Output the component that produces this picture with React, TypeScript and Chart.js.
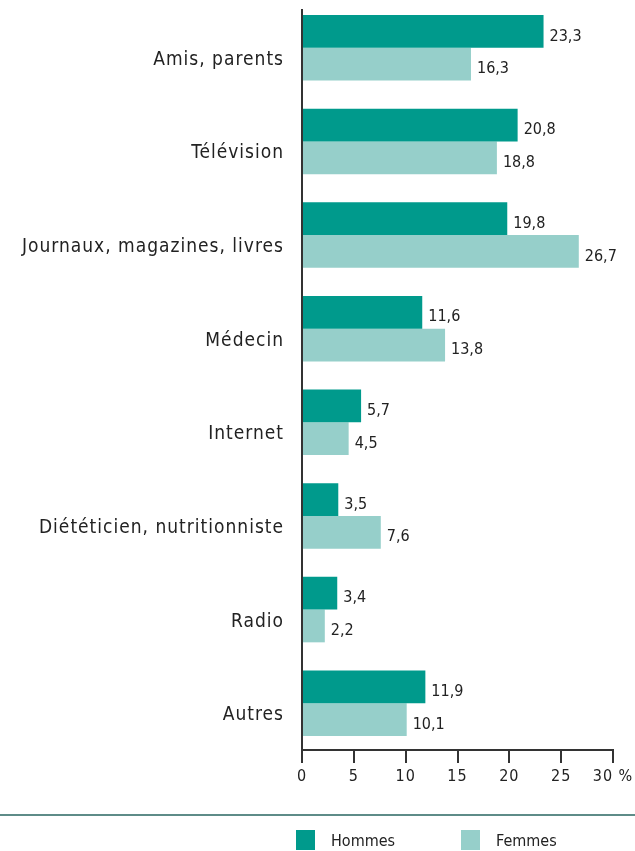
import React, { useEffect, useRef } from "react";
import { Chart, registerables } from "chart.js";

Chart.register(...registerables);

const categories = [
  "Amis, parents",
  "Télévision",
  "Journaux, magazines, livres",
  "Médecin",
  "Internet",
  "Diététicien, nutritionniste",
  "Radio",
  "Autres",
];
const hommes = [23.3, 20.8, 19.8, 11.6, 5.7, 3.5, 3.4, 11.9];
const femmes = [16.3, 18.8, 26.7, 13.8, 4.5, 7.6, 2.2, 10.1];
const seriesNames = ["Hommes", "Femmes"];
const xTicks = [0, 5, 10, 15, 20, 25, 30];
const unitLabel = "%";

const COL_H = "#009a8c";
const COL_F = "#96cfca";
const TEXT = "#222222";
const AXIS = "#333333";
const FONT = "'DejaVu Sans Condensed', 'Liberation Sans Narrow', 'Noto Sans', sans-serif";

const fmt = (v: number) => v.toFixed(1).replace(".", ",");

const extrasPlugin = {
  id: "extras",
  beforeDraw(chart: any) {
    (chart.ctx as any).letterSpacing = "1px";
  },
  afterDatasetsDraw(chart: any) {
    const ctx = chart.ctx;
    ctx.save();
    ctx.letterSpacing = "0px";
    ctx.font = `16px ${FONT}`;
    ctx.fillStyle = TEXT;
    ctx.textAlign = "left";
    ctx.textBaseline = "middle";
    chart.data.datasets.forEach((ds: any, i: number) => {
      const meta = chart.getDatasetMeta(i);
      meta.data.forEach((bar: any, j: number) => {
        ctx.fillText(fmt(ds.data[j]), bar.x + 6, bar.y + 5);
      });
    });
    ctx.restore();
  },
  afterDraw(chart: any) {
    const ctx = chart.ctx;
    const ca = chart.chartArea;
    ctx.save();
    ctx.letterSpacing = "0px";
    // y axis line
    ctx.strokeStyle = AXIS;
    ctx.lineWidth = 2;
    ctx.beginPath();
    ctx.moveTo(ca.left, 9);
    ctx.lineTo(ca.left, ca.bottom + 1);
    ctx.stroke();
    // separator
    ctx.strokeStyle = "#5e8c88";
    ctx.lineWidth = 2;
    ctx.beginPath();
    ctx.moveTo(0, 815);
    ctx.lineTo(chart.width, 815);
    ctx.stroke();
    // legend
    const items = [
      { name: seriesNames[0], color: COL_H, x: 296 },
      { name: seriesNames[1], color: COL_F, x: 461 },
    ];
    ctx.textAlign = "left";
    ctx.textBaseline = "middle";
    items.forEach((it) => {
      ctx.fillStyle = it.color;
      ctx.fillRect(it.x, 830, 19, 20);
      ctx.fillStyle = TEXT;
      ctx.font = `16px ${FONT}`;
      ctx.fillText(it.name, it.x + 35, 842);
    });
    ctx.restore();
  },
};

export default function App() {
  const ref = useRef<HTMLCanvasElement>(null);
  useEffect(() => {
    document.body.style.margin = "0";
    const chart = new Chart(ref.current!, {
      type: "bar",
      data: {
        labels: categories,
        datasets: [
          { label: seriesNames[0], data: hommes, backgroundColor: COL_H, barPercentage: 1, categoryPercentage: 0.7 },
          { label: seriesNames[1], data: femmes, backgroundColor: COL_F, barPercentage: 1, categoryPercentage: 0.7 },
        ],
      },
      options: {
        indexAxis: "y",
        animation: false,
        responsive: false,
        devicePixelRatio: 1,
        layout: { padding: { top: 1, right: 22, bottom: 61, left: 0 } },
        plugins: { legend: { display: false }, tooltip: { enabled: false } },
        scales: {
          x: {
            min: 0,
            max: 30,
            afterFit: (s: any) => { s.height = 40; s.paddingLeft = 0; s.paddingRight = 0; },
            afterBuildTicks: (s: any) => { s.ticks = xTicks.map((v) => ({ value: v })); },
            grid: { drawOnChartArea: false, drawTicks: true, tickLength: 13, color: AXIS, lineWidth: 2 },
            border: { display: true, color: AXIS, width: 2 },
            ticks: {
              color: TEXT,
              font: { family: FONT, size: 16 },
              padding: 4,
              autoSkip: false,
              maxRotation: 0,
              callback: (v: any) => (v === xTicks[xTicks.length - 1] ? `${v} ${unitLabel}` : `${v}`),
            },
          },
          y: {
            afterFit: (s: any) => { s.width = 302; s.paddingTop = 0; s.paddingBottom = 0; },
            grid: { display: false, drawTicks: false },
            border: { display: false },
            ticks: { color: TEXT, font: { family: FONT, size: 19 }, padding: 18, labelOffset: 12, autoSkip: false },
          },
        },
      },
      plugins: [extrasPlugin],
    });
    return () => chart.destroy();
  }, []);
  return <canvas ref={ref} width={635} height={851} style={{ display: "block" }} />;
}
